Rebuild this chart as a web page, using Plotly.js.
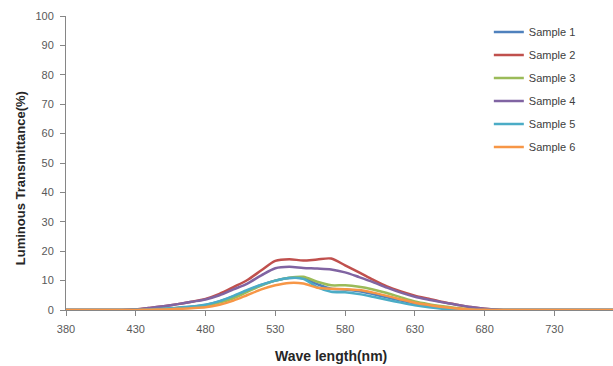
<!DOCTYPE html>
<html>
<head>
<meta charset="utf-8">
<script src="https://cdn.plot.ly/plotly-3.0.1.min.js"></script>
<style>html,body{margin:0;padding:0;background:#fff;}#chart{width:613px;height:366px;}</style>
</head>
<body>
<div id="chart"></div>
<script>
const wavelength = [380,390,400,410,420,430,440,450,460,470,480,490,500,510,520,530,540,550,560,570,580,590,600,610,620,630,640,650,660,670,680,690,700,710,720,730,740,750,760,770,780];
const sample1 = [0,0,0,0,0,0.05,0.2,0.4,0.7,1.1,1.7,2.9,4.6,6.6,8.5,10.0,10.9,10.8,8.8,7.2,7.0,6.4,5.4,4.3,3.2,2.2,1.4,0.8,0.4,0.15,0.05,0,0,0,0,0,0,0,0,0,0];
const sample2 = [0,0,0,0,0,0.2,0.7,1.3,2.0,2.8,3.8,5.5,7.8,10.2,13.5,16.7,17.3,16.8,17.2,17.5,15.2,12.8,10.3,8.0,6.3,4.9,3.8,2.7,1.8,1.0,0.4,0.1,0,0,0,0,0,0,0,0,0];
const sample3 = [0,0,0,0,0,0.05,0.2,0.4,0.7,1.0,1.5,2.5,4.0,6.2,8.3,10.0,11.0,11.3,9.6,8.4,8.4,7.9,7.0,5.8,4.3,2.9,2.0,1.3,0.7,0.3,0.1,0,0,0,0,0,0,0,0,0,0];
const sample4 = [0,0,0,0,0,0.2,0.7,1.3,2.0,2.8,3.6,5.0,7.0,9.0,11.8,14.2,14.7,14.3,14.1,13.8,12.8,11.2,9.5,7.6,5.9,4.5,3.5,2.6,1.8,1.0,0.4,0.1,0,0,0,0,0,0,0,0,0];
const sample5 = [0,0,0,0,0,0.05,0.2,0.4,0.8,1.2,1.8,3.0,4.8,6.8,8.6,10.0,10.9,10.6,7.8,6.2,6.0,5.4,4.5,3.5,2.5,1.6,0.9,0.4,0.15,0.05,0,0,0,0,0,0,0,0,0,0,0];
const sample6 = [0,0,0,0,0,0.02,0.1,0.2,0.4,0.6,0.9,1.8,3.2,5.1,7.0,8.4,9.2,9.0,7.6,7.2,7.1,6.8,5.9,4.8,3.6,2.5,1.7,1.0,0.5,0.2,0.05,0,0,0,0,0,0,0,0,0,0];
const seriesNames = ["Sample 1","Sample 2","Sample 3","Sample 4","Sample 5","Sample 6"];
const seriesValues = [sample1,sample2,sample3,sample4,sample5,sample6];
const colors = ["#4F81BD","#C0504D","#9BBB59","#8064A2","#4BACC6","#F79646"];
const xTicks = [380,430,480,530,580,630,680,730];
const yTicks = [0,10,20,30,40,50,60,70,80,90,100];

const traces = seriesNames.map((n,i)=>({
  x: wavelength, y: seriesValues[i], name: n, type: 'scatter', mode: 'lines',
  line: {color: colors[i], width: 2.5, shape: 'spline', smoothing: 0.8},
  legendgroup: 'g'+i
}));

const layout = {
  width: 613, height: 366,
  margin: {l: 66, r: 0, t: 16, b: 56},
  paper_bgcolor: '#fff', plot_bgcolor: '#fff',
  showlegend: true,
  legend: {x: 0.773, y: 0.995, xanchor: 'left', yanchor: 'top', traceorder: 'grouped', tracegroupgap: 4,
    font: {family: 'Liberation Sans, Arial, sans-serif', size: 11, color: '#404040'}, bgcolor: 'rgba(0,0,0,0)'},
  xaxis: {range: [380, 772], tickvals: xTicks, ticktext: xTicks.map(String), showgrid: false, zeroline: false,
    showline: true, linecolor: '#868686', linewidth: 1, ticks: 'outside', ticklen: 5, tickcolor: '#868686',
    ticklabelstandoff: 4,
    tickfont: {family: 'Liberation Sans, Arial, sans-serif', size: 11, color: '#595959'}},
  yaxis: {range: [0, 100], tickvals: yTicks, showgrid: false, zeroline: false,
    showline: true, linecolor: '#868686', linewidth: 1, ticks: 'outside', ticklen: 5, tickcolor: '#868686',
    ticklabelstandoff: 4,
    tickfont: {family: 'Liberation Sans, Arial, sans-serif', size: 11, color: '#595959'}},
  annotations: [
    {text: '<b>Wave length(nm)</b>', xref: 'paper', yref: 'paper', x: 0.485, y: -0.155, xanchor: 'center', yanchor: 'middle', showarrow: false,
      font: {family: 'Liberation Sans Narrow, Liberation Sans, Arial, sans-serif', size: 14, color: '#262626'}},
    {text: '<b>Luminous Transmittance(%)</b>', xref: 'paper', yref: 'paper', x: -0.083, y: 0.447, xanchor: 'center', yanchor: 'middle', textangle: -90, showarrow: false,
      font: {family: 'Liberation Sans Narrow, Liberation Sans, Arial, sans-serif', size: 13, color: '#262626'}}
  ]
};
Plotly.newPlot('chart', traces, layout, {displayModeBar: false, staticPlot: true});
</script>
</body>
</html>
